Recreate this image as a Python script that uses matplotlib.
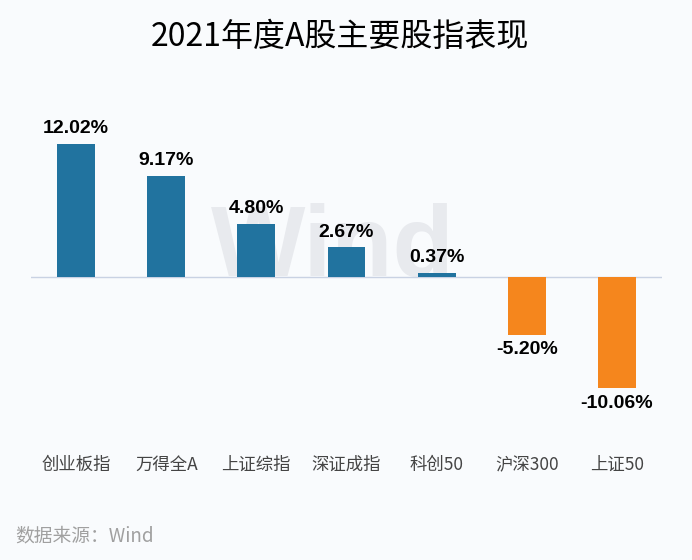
import matplotlib.pyplot as plt

plt.rcParams['font.family'] = ['Noto Sans CJK SC', 'DejaVu Sans']

# data
names = ['创业板指', '万得全A', '上证综指', '深证成指', '科创50', '沪深300', '上证50']
returns = [12.02, 9.17, 4.80, 2.67, 0.37, -5.20, -10.06]
title = '2021年度A股主要股指表现'
source = '数据来源：Wind'

BLUE = '#21739f'
ORANGE = '#f5861d'
BG = '#f9fbfd'


def main():
    fig = plt.figure(figsize=(6.92, 5.6), dpi=100, facecolor=BG)
    ax = fig.add_axes([31 / 692, 0.25, 631 / 692, 310 / 560])
    ax.set_facecolor(BG)

    xs = list(range(len(names)))
    colors = [BLUE if v >= 0 else ORANGE for v in returns]

    # faint watermark behind the bars
    ax.text(2.85, 0.1, 'Wind', fontsize=72, fontweight='bold', color='#e8eaee',
            ha='center', va='baseline', family='Liberation Sans', zorder=0)

    ax.bar(xs, returns, width=0.42, color=colors, zorder=2)
    ax.axhline(0, color='#c9d2e3', linewidth=1.0, zorder=1)

    for x, v in zip(xs, returns):
        if v >= 0:
            ax.text(x, v + 0.6, '%.2f%%' % v, ha='center', va='bottom',
                    fontsize=14, fontweight='bold', family='Liberation Sans',
                    zorder=3)
        else:
            ax.text(x, v - 0.6, '%.2f%%' % v, ha='center', va='top',
                    fontsize=14, fontweight='bold', family='Liberation Sans',
                    zorder=3)

    ax.set_xlim(-0.5, len(names) - 0.5)
    ax.set_ylim(-12.92, 15.09)
    ax.set_yticks([])
    ax.set_xticks([])
    for s in ax.spines.values():
        s.set_visible(False)

    # category labels under the plot area
    for x, n in zip(xs, names):
        ax.text(x, -17.0, n, ha='center', va='center', fontsize=12.5,
                color='#444444')

    fig.text(340 / 692, 1 - 37 / 560, title, ha='center', va='center',
             fontsize=23, color='black')
    fig.text(15 / 692, 1 - 536 / 560, source, ha='left', va='center',
             fontsize=13.5, color='#a0a0a0')

    fig.savefig('out.png', dpi=100, facecolor=BG)


if __name__ == "__main__":
    main()
